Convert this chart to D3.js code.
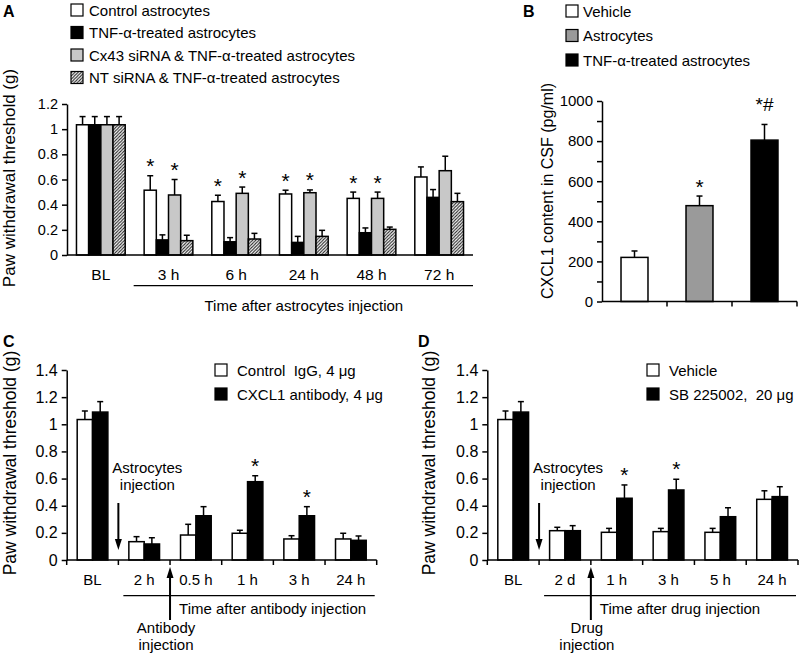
<!DOCTYPE html>
<html><head><meta charset="utf-8">
<script src="https://cdn.jsdelivr.net/npm/d3@7"></script>
<style>
body{margin:0;background:#fff}
svg{display:block}
text{font-family:Arial,"Liberation Sans",sans-serif;fill:#000;white-space:pre}
</style>
</head><body><script>
// ---------------- DATA ----------------
// Panel A
const A_categories = ["BL","3 h","6 h","24 h","48 h","72 h"];
const A_series = ["Control astrocytes","TNF-\u03b1-treated astrocytes","Cx43 siRNA & TNF-\u03b1-treated astrocytes","NT siRNA & TNF-\u03b1-treated astrocytes"];
const A_control     = [1.035,0.515,0.425,0.485,0.45,0.62];
const A_control_err = [0.065,0.115,0.05,0.03,0.05,0.08];
const A_tnf         = [1.035,0.12,0.105,0.10,0.177,0.458];
const A_tnf_err     = [0.065,0.04,0.033,0.048,0.038,0.062];
const A_cx43        = [1.035,0.477,0.49,0.495,0.45,0.67];
const A_cx43_err    = [0.065,0.123,0.05,0.022,0.05,0.115];
const A_nt          = [1.035,0.114,0.127,0.148,0.204,0.424];
const A_nt_err      = [0.065,0.043,0.045,0.048,0.018,0.066];
const A_yTicks = [0,0.2,0.4,0.6,0.8,1,1.2];
const A_star_categories = ["3 h","6 h","24 h","48 h"];
const A_star_series = [0,2];
const A_yTitle = "Paw withdrawal threshold (g)";
const A_xTitle = "Time after astrocytes injection";

// Panel B
const B_categories = ["Vehicle","Astrocytes","TNF-\u03b1-treated astrocytes"];
const B_values = [220,478,805];
const B_err    = [32,48,78];
const B_annot  = ["","*","*#"];
const B_yTicks = [0,100,200,300,400,500,600,700,800,900,1000];
const B_yLabels = [0,200,400,600,800,1000];
const B_yTitle = "CXCL1 content in CSF (pg/ml)";

// Panel C
const C_categories = ["BL","2 h","0.5 h","1 h","3 h","24 h"];
const C_series = ["Control  IgG, 4 \u03bcg","CXCL1 antibody, 4 \u03bcg"];
const C_igg     = [1.035,0.135,0.184,0.197,0.155,0.155];
const C_igg_err = [0.063,0.037,0.079,0.022,0.024,0.042];
const C_ab      = [1.09,0.118,0.326,0.577,0.326,0.145];
const C_ab_err  = [0.077,0.046,0.067,0.044,0.067,0.032];
const C_star_categories = ["1 h","3 h"];
const C_xTitle = "Time after antibody injection";
const C_upLabel = ["Antibody","injection"];

// Panel D
const D_categories = ["BL","2 d","1 h","3 h","5 h","24 h"];
const D_series = ["Vehicle","SB 225002,  20 \u03bcg"];
const D_vehicle     = [1.035,0.216,0.204,0.209,0.204,0.447];
const D_vehicle_err = [0.063,0.025,0.029,0.024,0.029,0.063];
const D_sb          = [1.09,0.216,0.455,0.516,0.319,0.467];
const D_sb_err      = [0.077,0.037,0.098,0.079,0.066,0.073];
const D_star_categories = ["1 h","3 h"];
const D_xTitle = "Time after drug injection";
const D_upLabel = ["Drug","injection"];

const CD_yTicks = [0,0.2,0.4,0.6,0.8,1,1.2,1.4];
const CD_downLabel = ["Astrocytes","injection"];

// ---------------- DRAWING ----------------
const svg = d3.select("body").append("svg").attr("width",800).attr("height",657);
const defs = svg.append("defs");
const pat = defs.append("pattern").attr("id","hatch").attr("patternUnits","userSpaceOnUse")
  .attr("width",3.2).attr("height",3.2);
pat.append("rect").attr("width",3.2).attr("height",3.2).attr("fill","#fff");
pat.append("path").attr("d","M-1,1 L1,-1 M0,3.2 L3.2,0 M2.2,4.2 L4.2,2.2")
  .attr("stroke","#222").attr("stroke-width",1);

const SW = 1.5;

function yAxis(x, y, ticks, labels, fs){
  const ax = d3.axisLeft(y).tickValues(ticks).tickSize(5).tickSizeOuter(0).tickPadding(4)
    .tickFormat(d => labels.includes(d) ? String(d) : "");
  const g = svg.append("g").attr("transform",`translate(${x},0)`).call(ax)
    .attr("font-family",null).attr("font-size",null);
  g.select(".domain").attr("stroke","#000").attr("stroke-width",SW);
  g.selectAll(".tick line").attr("stroke","#000").attr("stroke-width",SW);
  g.selectAll(".tick text").attr("font-size",fs).attr("fill","#000");
  return g;
}

function bars(x, y, cats, seriesVals, seriesErr, fills){
  const inner = d3.scaleBand().domain(d3.range(seriesVals.length)).range([0,x.bandwidth()]);
  const g = svg.append("g");
  seriesVals.forEach((vals,s)=>{
    const errs = seriesErr[s];
    g.selectAll(null).data(vals).join("line")
      .attr("x1",(d,i)=>x(cats[i])+inner(s)+inner.bandwidth()/2)
      .attr("x2",(d,i)=>x(cats[i])+inner(s)+inner.bandwidth()/2)
      .attr("y1",d=>y(d)).attr("y2",(d,i)=>y(d+errs[i]))
      .attr("stroke","#000").attr("stroke-width",SW);
    g.selectAll(null).data(vals).join("line")
      .attr("x1",(d,i)=>x(cats[i])+inner(s)+inner.bandwidth()/2-3)
      .attr("x2",(d,i)=>x(cats[i])+inner(s)+inner.bandwidth()/2+3)
      .attr("y1",(d,i)=>y(d+errs[i])).attr("y2",(d,i)=>y(d+errs[i]))
      .attr("stroke","#000").attr("stroke-width",SW);
    g.selectAll(null).data(vals).join("rect")
      .attr("x",(d,i)=>x(cats[i])+inner(s))
      .attr("width",inner.bandwidth())
      .attr("y",d=>y(d)).attr("height",d=>y(0)-y(d))
      .attr("fill",fills[s]).attr("stroke","#000").attr("stroke-width",SW);
  });
  return inner;
}

function star(xc, yTop, label, off, fs){
  svg.append("text").attr("x",xc).attr("y",yTop-off).attr("text-anchor","middle")
    .attr("font-size",fs||21).text(label);
}

function legend(x, textX, baselines, names, fills, fs){
  names.forEach((n,i)=>{
    svg.append("rect").attr("x",x).attr("y",baselines[i]-11.5).attr("width",12).attr("height",12)
      .attr("fill",fills[i]).attr("stroke","#000").attr("stroke-width",1.2);
    svg.append("text").attr("x",textX).attr("y",baselines[i]).attr("font-size",fs).text(n);
  });
}

function hline(x1,x2,y,w){
  svg.append("line").attr("x1",x1).attr("x2",x2).attr("y1",y).attr("y2",y)
    .attr("stroke","#000").attr("stroke-width",w||SW);
}

function arrow(x, yFrom, yTip){
  const dir = yTip > yFrom ? 1 : -1;
  svg.append("line").attr("x1",x).attr("x2",x).attr("y1",yFrom).attr("y2",yTip-dir*9)
    .attr("stroke","#000").attr("stroke-width",2);
  svg.append("path").attr("d",`M${x-3.5},${yTip-dir*11} L${x+3.5},${yTip-dir*11} L${x},${yTip} Z`)
    .attr("fill","#000");
}

function panelLabel(t,x,y){
  svg.append("text").attr("x",x).attr("y",y).attr("font-size",16).attr("font-weight","bold").text(t);
}

function rotTitle(t,x,y,fs){
  svg.append("text").attr("transform",`translate(${x},${y}) rotate(-90)`)
    .attr("text-anchor","middle").attr("font-size",fs).text(t);
}

// ---------- Panel A ----------
{
  const x = d3.scaleBand().domain(A_categories).range([67,473]).paddingInner(0.28).paddingOuter(0.14);
  const y = d3.scaleLinear().domain([0,1.2]).range([255,104]);
  const fills = ["#fff","#000","#c8c8c8","url(#hatch)"];
  const vals = [A_control,A_tnf,A_cx43,A_nt];
  const errs = [A_control_err,A_tnf_err,A_cx43_err,A_nt_err];
  const inner = bars(x,y,A_categories,vals,errs,fills);
  yAxis(67,y,A_yTicks,A_yTicks,14.5);
  hline(67,473,y(0));
  A_star_categories.forEach(c=>{
    const i = A_categories.indexOf(c);
    A_star_series.forEach(s=>{
      star(x(c)+inner(s)+inner.bandwidth()/2, y(vals[s][i]+errs[s][i]), "*", 2.5);
    });
  });
  A_categories.forEach(c=>{
    svg.append("text").attr("x",x(c)+x.bandwidth()/2).attr("y",280).attr("text-anchor","middle")
      .attr("font-size",15.5).text(c);
  });
  const b1 = 67 + x.step();
  hline(b1-1,473,285.7,1.3);
  svg.append("text").attr("x",(b1+473)/2).attr("y",311).attr("text-anchor","middle")
    .attr("font-size",15).text(A_xTitle);
  rotTitle(A_yTitle,15,178,17);
  legend(71,89,[15.5,38,60.5,83],A_series,fills,15);
  panelLabel("A",3,17);
}

// ---------- Panel B ----------
{
  const x = d3.scaleBand().domain(B_categories).range([602,797]).paddingInner(0.585).paddingOuter(0.2925);
  const y = d3.scaleLinear().domain([0,1000]).range([301.5,101]);
  const fills = ["#fff","#9a9a9a","#000"];
  const g = svg.append("g");
  g.selectAll(null).data(B_values).join("line")
    .attr("x1",(d,i)=>x(B_categories[i])+x.bandwidth()/2).attr("x2",(d,i)=>x(B_categories[i])+x.bandwidth()/2)
    .attr("y1",d=>y(d)).attr("y2",(d,i)=>y(d+B_err[i])).attr("stroke","#000").attr("stroke-width",SW);
  g.selectAll(null).data(B_values).join("line")
    .attr("x1",(d,i)=>x(B_categories[i])+x.bandwidth()/2-3).attr("x2",(d,i)=>x(B_categories[i])+x.bandwidth()/2+3)
    .attr("y1",(d,i)=>y(d+B_err[i])).attr("y2",(d,i)=>y(d+B_err[i])).attr("stroke","#000").attr("stroke-width",SW);
  g.selectAll(null).data(B_values).join("rect")
    .attr("x",(d,i)=>x(B_categories[i])).attr("width",x.bandwidth())
    .attr("y",d=>y(d)).attr("height",d=>y(0)-y(d))
    .attr("fill",(d,i)=>fills[i]).attr("stroke","#000").attr("stroke-width",SW);
  yAxis(602,y,B_yTicks,B_yLabels,15);
  hline(602,797,y(0));
  d3.range(1,4).forEach(i=>{
    const bx = 602 + i*x.step();
    svg.append("line").attr("x1",bx).attr("x2",bx).attr("y1",y(0)).attr("y2",y(0)+5)
      .attr("stroke","#000").attr("stroke-width",SW);
  });
  B_annot.forEach((a,i)=>{
    if(a) star(x(B_categories[i])+x.bandwidth()/2, y(B_values[i]+B_err[i]), a, a.length>1?13:2.5, a.length>1?19:21);
  });
  rotTitle(B_yTitle,553,191,16);
  legend(566,583,[16.5,41,65.5],B_categories,fills,15);
  panelLabel("B",523,17);
}

// ---------- Panels C & D ----------
function panelCD(opt){
  const x = d3.scaleBand().domain(opt.cats).range([opt.x0,opt.x1]).paddingInner(0.406).paddingOuter(0.203);
  const y = d3.scaleLinear().domain([0,1.4]).range([560,370]);
  const fills = ["#fff","#000"];
  const inner = bars(x,y,opt.cats,opt.vals,opt.errs,fills);
  yAxis(opt.x0,y,CD_yTicks,CD_yTicks,16);
  hline(opt.x0,opt.x1,y(0));
  const step = x.step();
  d3.range(0,7).forEach(i=>{
    const bx = opt.x0 + i*step;
    svg.append("line").attr("x1",bx).attr("x2",bx).attr("y1",y(0)).attr("y2",y(0)+5)
      .attr("stroke","#000").attr("stroke-width",SW);
  });
  opt.stars.forEach(c=>{
    const i = opt.cats.indexOf(c);
    star(x(c)+inner(1)+inner.bandwidth()/2, y(opt.vals[1][i]+opt.errs[1][i]), "*", 3);
  });
  opt.cats.forEach(c=>{
    svg.append("text").attr("x",x(c)+x.bandwidth()/2).attr("y",585).attr("text-anchor","middle")
      .attr("font-size",15).text(c);
  });
  const b1 = opt.x0 + step, b2 = opt.x0 + 2*step;
  hline(b1+5,opt.x1-2,595.7,1.3);
  svg.append("text").attr("x",b2+9).attr("y",614).attr("font-size",15).text(opt.xTitle);
  arrow(b1,503,550);
  arrow(b2,620,567);
  svg.append("text").attr("x",b1+29).attr("y",473).attr("text-anchor","middle").attr("font-size",15).text(CD_downLabel[0]);
  svg.append("text").attr("x",b1+29).attr("y",490).attr("text-anchor","middle").attr("font-size",15).text(CD_downLabel[1]);
  svg.append("text").attr("x",b2-4).attr("y",633).attr("text-anchor","middle").attr("font-size",15).text(opt.up[0]);
  svg.append("text").attr("x",b2-4).attr("y",650).attr("text-anchor","middle").attr("font-size",15).text(opt.up[1]);
  rotTitle(A_yTitle,opt.titleX,463,17.5);
  legend(opt.legX,opt.legX+22,[375.5,399.5],opt.series,fills,15);
  panelLabel(opt.label,opt.labelX,347);
}

panelCD({cats:C_categories,x0:66.7,x1:376.7,vals:[C_igg,C_ab],errs:[C_igg_err,C_ab_err],
  stars:C_star_categories,xTitle:C_xTitle,up:C_upLabel,series:C_series,legX:215,titleX:16,label:"C",labelX:3});
panelCD({cats:D_categories,x0:487.3,x1:798,vals:[D_vehicle,D_sb],errs:[D_vehicle_err,D_sb_err],
  stars:D_star_categories,xTitle:D_xTitle,up:D_upLabel,series:D_series,legX:647,titleX:435,label:"D",labelX:418});
</script></body></html>
